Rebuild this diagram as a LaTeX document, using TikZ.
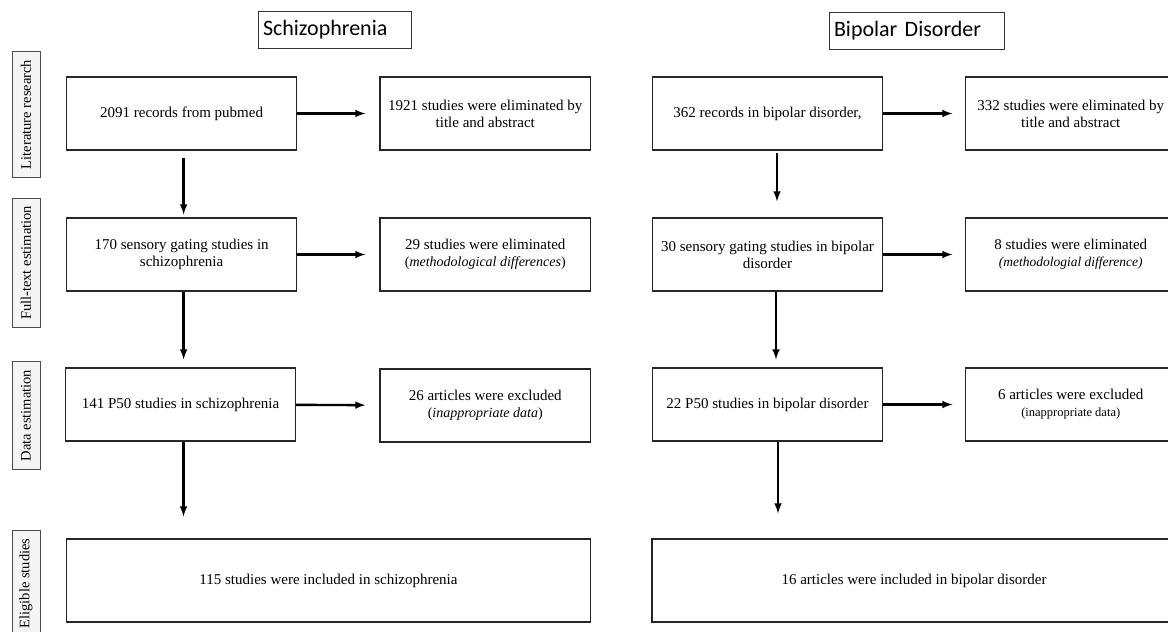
\documentclass[tikz,border=0pt]{standalone}
\usepackage{fontspec}
\setmainfont{Liberation Serif}
\newfontfamily\headfont{Carlito}
\usepackage{tikz}

\begin{document}
\begin{tikzpicture}[x=1pt,y=-1pt,
  box/.style={draw=black!85,line width=1.2pt,minimum width=230pt,minimum height=73pt,inner sep=0pt,align=center,font=\fontsize{15}{17}\selectfont},
  xbox/.style={box,minimum width=210.5pt},
  endbox/.style={box,minimum width=524pt,minimum height=83pt},
  side/.style={draw=black!70,fill=gray!8,line width=1pt,rotate=90,minimum height=28pt,inner xsep=8pt,inner ysep=0pt,font=\fontsize{14.5}{17}\selectfont},
  head/.style={draw=black!80,line width=1pt,inner xsep=5pt,minimum height=37pt,align=left,font=\headfont\fontsize{22}{26}\selectfont},
  arr/.style={line width=2.4pt,-latex}]
\clip (0,0) rectangle (1168,632);
% stage labels
\node[side] (lit) at (26,114.5) {Literature research};
\node[side] (full) at (26,263) {Full-text estimation};
\node[side] (data) at (26,415.5) {Data estimation};
\node[side] (elig) at (26,583.5) {Eligible studies};
% schizophrenia column
\node[head,text width=143pt] (shead) at (334.5,29.5) {Schizophrenia};
\node[box] (s1) at (181.6,113.5) {2091 records from pubmed};
\node[xbox] (s1x) at (485.25,113.5) {1921 studies were eliminated by\\title and abstract};
\node[box] (s2) at (181.6,254.5) {170 sensory gating studies in\\schizophrenia};
\node[xbox] (s2x) at (485.25,254.5) {29 studies were eliminated\\{\fontsize{14}{17}\selectfont(\textit{methodological differences})}};
\node[box] (s3) at (180.5,404.5) {141 P50 studies in schizophrenia};
\node[xbox] (s3x) at (485.25,405.5) {26 articles were excluded\\{\fontsize{14}{17}\selectfont(\textit{inappropriate data})}};
\node[endbox] (s4) at (328.5,580.5) {115 studies were included in schizophrenia};
% bipolar column
\node[head,text width=165pt] (bhead) at (916.5,30.5) {Bipolar Disorder};
\node[box] (b1) at (767.5,113.5) {362 records in bipolar disorder,};
\node[xbox] (b1x) at (1070.75,113.5) {332 studies were eliminated by\\title and abstract};
\node[box] (b2) at (767.5,254.5) {30 sensory gating studies in bipolar\\disorder};
\node[xbox] (b2x) at (1070.75,254.5) {8 studies were eliminated\\{\fontsize{13.5}{17}\selectfont\textit{(methodologial difference)}}};
\node[box] (b3) at (767.5,404.5) {22 P50 studies in bipolar disorder};
\node[xbox] (b3x) at (1070.75,404.5) {6 articles were excluded\\{\fontsize{12.5}{15}\selectfont(inappropriate data)}};
\node[endbox] (b4) at (914,580.5) {16 articles were included in bipolar disorder};
% arrows
\draw[arr,shorten >=14pt] (s1) -- (s1x); %
\draw[arr,shorten >=14pt] (s2) -- (s2x); %
\draw[arr,shorten >=14pt] (s3) -- (s3x); %
\draw[arr,shorten <=7pt,shorten >=3pt] ([xshift=2pt]s1.south) -- ([xshift=2pt]s2.north); %
\draw[arr,shorten >=8pt] ([xshift=2pt]s2.south) -- ([xshift=2pt]s2.south |- s3.north); %
\draw[arr,shorten >=22pt] ([xshift=3pt]s3.south) -- ([xshift=3pt]s3.south |- s4.north); %
\draw[arr,shorten >=12.5pt] (b1) -- (b1x); %
\draw[arr,shorten >=12.5pt] (b2) -- (b2x); %
\draw[arr,shorten >=12.5pt] (b3) -- (b3x); %
\draw[arr,shorten <=2pt,shorten >=16pt] ([xshift=9.5pt]b1.south) -- ([xshift=9.5pt]b2.north); %
\draw[arr,shorten >=8pt] ([xshift=8.5pt]b2.south) -- ([xshift=8.5pt]b3.north); %
\draw[arr,shorten >=25pt] ([xshift=10.5pt]b3.south) -- ([xshift=10.5pt]b3.south |- b4.north); %
\end{tikzpicture}
\end{document}
